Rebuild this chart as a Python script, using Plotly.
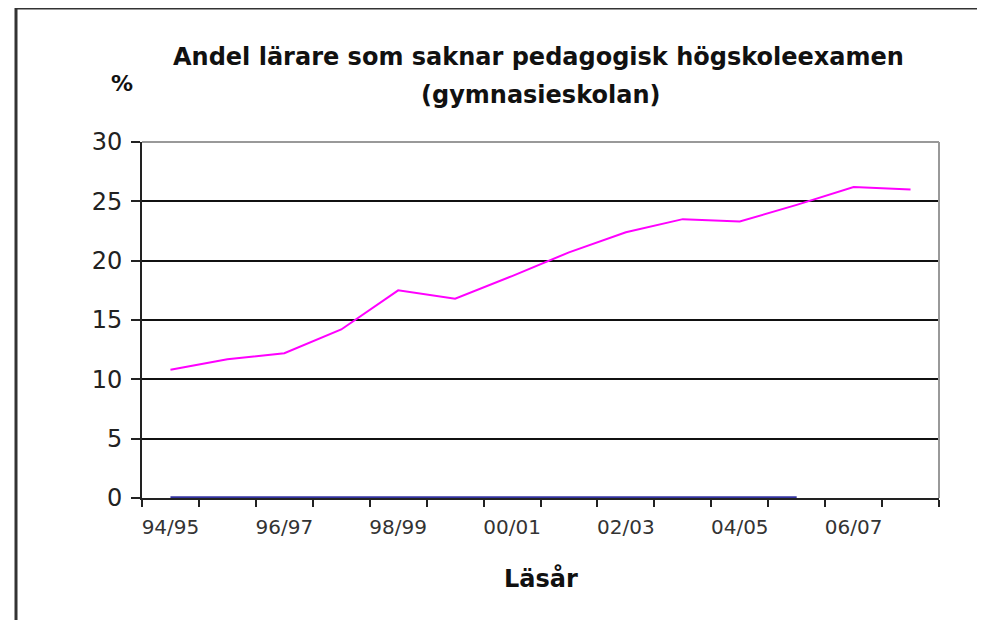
import plotly.graph_objects as go

categories = ["94/95", "95/96", "96/97", "97/98", "98/99", "99/00", "00/01",
              "01/02", "02/03", "03/04", "04/05", "05/06", "06/07", "07/08"]
andel_utan_examen = [10.8, 11.7, 12.2, 14.2, 17.5, 16.8, 18.7,
                     20.7, 22.4, 23.5, 23.3, 24.7, 26.2, 26.0]
serie_noll = [0, 0, 0, 0, 0, 0, 0, 0, 0, 0, 0, 0, None, None]
y_ticks = [0, 5, 10, 15, 20, 25, 30]
x_ticktext = [c if i % 2 == 0 else "" for i, c in enumerate(categories)]

title_line1 = "Andel lärare som saknar pedagogisk högskoleexamen"
title_line2 = "(gymnasieskolan)"
x_title = "Läsår"
y_title = "%"

# page body has an 8px margin, so the figure is offset by 8px
OFF = 8
W, H = 985 - OFF, 620 - OFF
L, T = 142 - OFF, 142 - OFF
pw, ph = 797, 356
R, B = W - L - pw, H - T - ph

def px_x(px):
    return (px - OFF - L) / pw

def px_y(py):
    return (T + ph - (py - OFF)) / ph

FONT = "DejaVu Sans"

fig = go.Figure()
fig.add_trace(go.Scatter(x=categories, y=serie_noll, mode="lines",
                         line=dict(color="#3333a0", width=3.5),
                         showlegend=False, hoverinfo="skip"))
fig.add_trace(go.Scatter(x=categories, y=andel_utan_examen, mode="lines",
                         line=dict(color="#FF00FF", width=2),
                         showlegend=False))

n = len(categories)
fig.update_layout(
    width=W, height=H, autosize=False,
    margin=dict(l=L, r=R, t=T, b=B, pad=0),
    paper_bgcolor="white", plot_bgcolor="white",
    font=dict(family=FONT, color="#111111"),
    xaxis=dict(type="category", categoryorder="array", categoryarray=categories,
               range=[-0.5, n - 0.5], tickvals=categories, ticktext=x_ticktext,
               tickson="boundaries", ticks="outside", ticklen=7, tickwidth=2,
               tickcolor="#222222", tickangle=0,
               showgrid=False, zeroline=False, layer="below traces",
               showline=True, linecolor="#222222", linewidth=2,
               ticklabelstandoff=10,
               tickfont=dict(size=20, color="#333333", family=FONT)),
    yaxis=dict(range=[0, 30], tickvals=y_ticks, ticks="outside", ticklen=9,
               tickwidth=2, tickcolor="#222222", ticklabelstandoff=4,
               showgrid=True, gridcolor="#111111", gridwidth=2,
               zeroline=False, showline=True, linecolor="#222222", linewidth=2,
               tickfont=dict(size=24, color="#222222", family=FONT)),
    shapes=[
        dict(type="line", xref="paper", yref="paper", x0=0, x1=1, y0=1, y1=1,
             line=dict(color="#999999", width=2), layer="above"),
        dict(type="line", xref="paper", yref="paper", x0=1, x1=1, y0=0, y1=1,
             line=dict(color="#999999", width=2), layer="above"),
        dict(type="line", xref="paper", yref="paper", x0=px_x(16), x1=px_x(16),
             y0=px_y(7), y1=px_y(640), line=dict(color="#333333", width=3)),
        dict(type="line", xref="paper", yref="paper", x0=px_x(15), x1=px_x(1000),
             y0=px_y(8), y1=px_y(8), line=dict(color="#333333", width=3)),
    ],
    annotations=[
        dict(text="<b>" + title_line1 + "</b>", xref="paper", yref="paper",
             x=px_x(538), y=px_y(57), showarrow=False, xanchor="center", yanchor="middle",
             font=dict(size=24, family=FONT, color="#111111")),
        dict(text="<b>" + title_line2 + "</b>", xref="paper", yref="paper",
             x=px_x(540), y=px_y(95), showarrow=False, xanchor="center", yanchor="middle",
             font=dict(size=24, family=FONT, color="#111111")),
        dict(text="<b>" + y_title + "</b>", xref="paper", yref="paper",
             x=px_x(122), y=px_y(83), showarrow=False, xanchor="center", yanchor="middle",
             font=dict(size=22, family=FONT, color="#111111")),
        dict(text="<b>" + x_title + "</b>", xref="paper", yref="paper",
             x=px_x(541), y=px_y(578), showarrow=False, xanchor="center", yanchor="middle",
             font=dict(size=24, family=FONT, color="#111111")),
    ],
)

fig.write_html("out.html")
